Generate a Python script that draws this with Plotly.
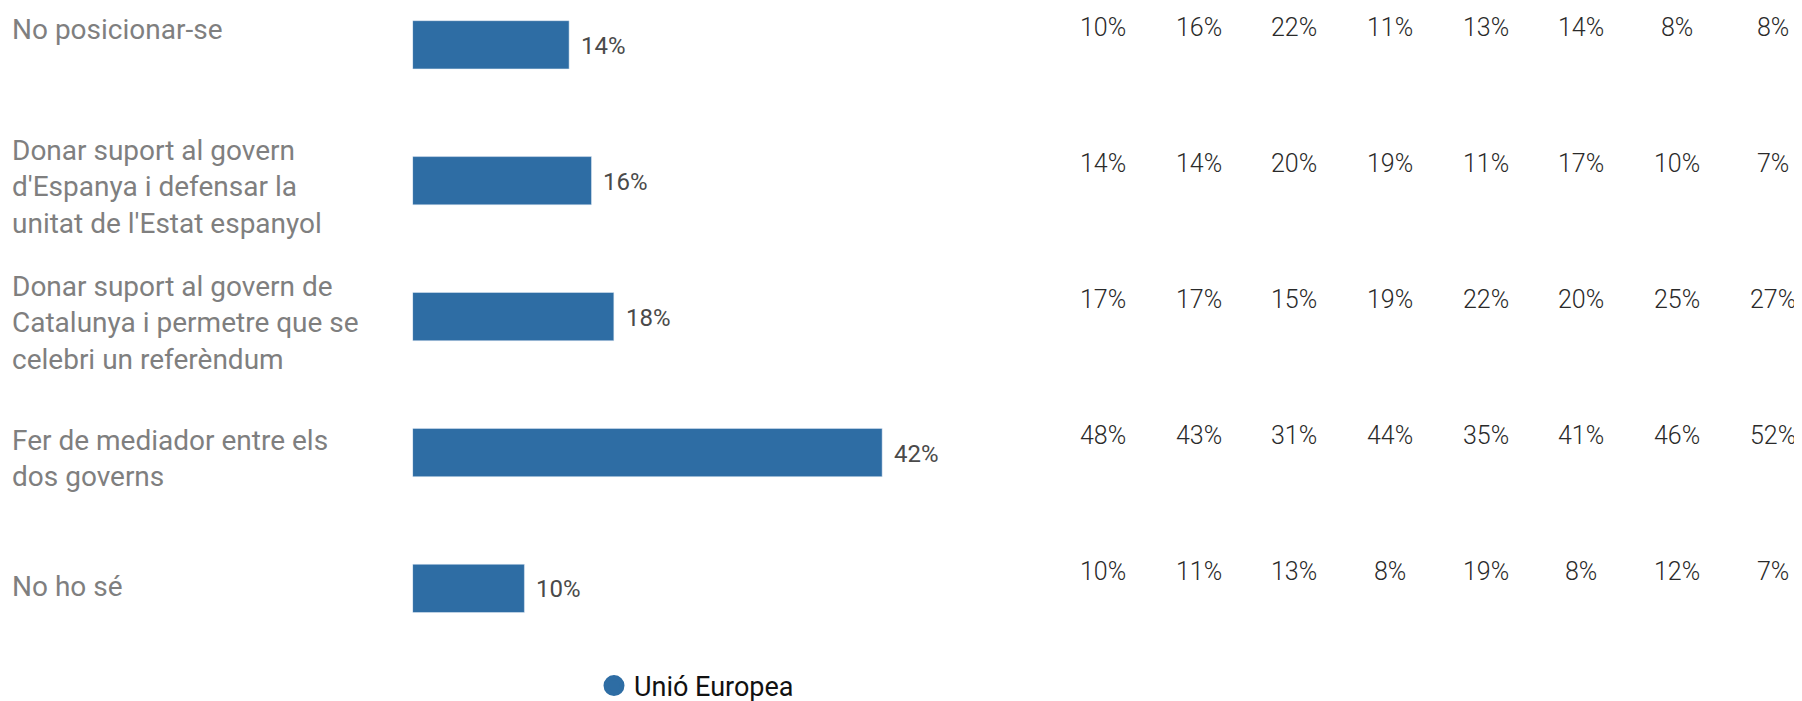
import plotly.graph_objects as go

categories = [
    "No posicionar-se",
    "Donar suport al govern d'Espanya i defensar la unitat de l'Estat espanyol",
    "Donar suport al govern de Catalunya i permetre que se celebri un referèndum",
    "Fer de mediador entre els dos governs",
    "No ho sé",
]
labels = [
    "No posicionar-se",
    "Donar suport al govern<br>d'Espanya i defensar la<br>unitat de l'Estat espanyol",
    "Donar suport al govern de<br>Catalunya i permetre que se<br>celebri un referèndum",
    "Fer de mediador entre els<br>dos governs",
    "No ho sé",
]
unio_europea = [14, 16, 18, 42, 10]

# other columns of the table, one list per row
no_posicionar = [10, 16, 22, 11, 13, 14, 8, 8]
suport_espanya = [14, 14, 20, 19, 11, 17, 10, 7]
suport_catalunya = [17, 17, 15, 19, 22, 20, 25, 27]
mediador = [48, 43, 31, 44, 35, 41, 46, 52]
no_ho_se = [10, 11, 13, 8, 19, 8, 12, 7]
rows = [no_posicionar, suport_espanya, suport_catalunya, mediador, no_ho_se]

BLUE = "#2e6da4"
# page body adds 8px margin, so the figure is a bit smaller than the window
W, H = 1794, 693
label_shift = [15, -6, -6, -6, 2]

fig = go.Figure()
fig.add_trace(go.Bar(
    x=unio_europea, y=categories, orientation="h",
    marker=dict(color=BLUE), width=0.355, showlegend=False,
    hoverinfo="x+y",
))
fig.add_trace(go.Scatter(
    x=[None], y=[None], mode="markers", name="Unió Europea",
    marker=dict(symbol="circle", size=16, color=BLUE,
                line=dict(color=BLUE, width=5)),
))

ann = []
for cat, lab, sh in zip(categories, labels, label_shift):
    ann.append(dict(
        xref="paper", yref="y", x=2 / W, y=cat, xanchor="left",
        yanchor="middle", align="left", text=lab, showarrow=False,
        font=dict(family="Roboto", size=28, color="#7f7f7f"),
        yshift=sh,
    ))
for cat, v in zip(categories, unio_europea):
    ann.append(dict(
        xref="x", yref="y", x=v, y=cat, xanchor="left", yanchor="middle",
        text=f"{v}%", showarrow=False, xshift=10, yshift=-1,
        font=dict(family="Roboto", size=24, color="#4a4a4a"),
    ))
for cat, row in zip(categories, rows):
    for j, v in enumerate(row):
        ann.append(dict(
            xref="x2", yref="y", x=j, y=cat, xanchor="center",
            yanchor="middle", text=f"{v}%", showarrow=False, yshift=17,
            font=dict(family="Roboto", size=25, color="#2a2a2a", weight=300),
        ))

fig.update_layout(
    width=W, height=H,
    margin=dict(l=0, r=0, t=0, b=0, autoexpand=False),
    paper_bgcolor="white", plot_bgcolor="white",
    xaxis=dict(domain=[404.6 / W, 992 / W], range=[0, 52.54],
               visible=False, fixedrange=True),
    xaxis2=dict(domain=[1037.2 / W, 1.0], range=[-0.602, 7.305],
                anchor="y", visible=False, fixedrange=True),
    yaxis=dict(type="category", categoryorder="array",
               categoryarray=categories, range=[4.8285, -0.2708],
               visible=False, fixedrange=True),
    legend=dict(x=586 / W, y=1 - 678 / H, xanchor="left",
                yanchor="middle", bgcolor="rgba(0,0,0,0)",
                font=dict(family="Roboto", size=27, color="#111111")),
    annotations=ann,
    font=dict(family="Roboto"),
)

fig.write_html("out.html")
